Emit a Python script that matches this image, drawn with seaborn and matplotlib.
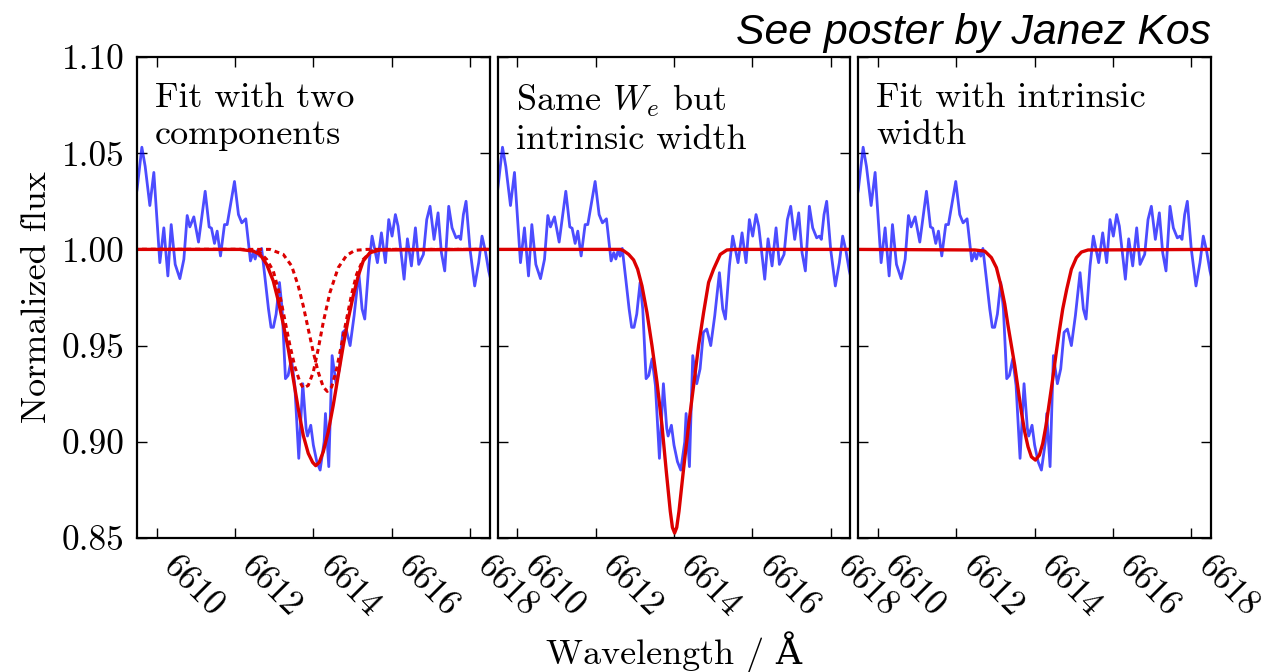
import matplotlib
matplotlib.use("Agg")
import matplotlib.pyplot as plt
import seaborn as sns

# observed spectrum (same in all three panels)
wave = [6609.40, 6609.50, 6609.623, 6609.708, 6609.827, 6609.929, 6610.082, 6610.184, 6610.287,
        6610.372, 6610.474, 6610.593, 6610.695, 6610.780, 6610.848, 6610.950, 6611.069,
        6611.239, 6611.341, 6611.400, 6611.477, 6611.545, 6611.630, 6611.732, 6611.800,
        6611.987, 6612.089, 6612.174, 6612.276, 6612.395, 6612.463, 6612.515, 6612.575,
        6612.625, 6612.680, 6612.770, 6612.855, 6612.920, 6612.980, 6613.050, 6613.135,
        6613.203, 6613.288, 6613.356, 6613.441, 6613.526, 6613.628, 6613.730, 6613.815,
        6613.850, 6613.934, 6614.000, 6614.088, 6614.173, 6614.275, 6614.309, 6614.394,
        6614.479, 6614.581, 6614.666, 6614.751, 6614.836, 6614.938, 6615.040, 6615.159,
        6615.244, 6615.312, 6615.414, 6615.499, 6615.567, 6615.635, 6615.737, 6615.839,
        6615.924, 6616.009, 6616.094, 6616.162, 6616.230, 6616.316, 6616.401, 6616.503,
        6616.605, 6616.690, 6616.809, 6616.894, 6616.979, 6617.081, 6617.183, 6617.268,
        6617.353, 6617.455, 6617.540, 6617.642, 6617.710, 6617.761, 6617.829, 6617.897,
        6617.999, 6618.118, 6618.220, 6618.305, 6618.390, 6618.475, 6618.520]
flux = [1.020, 1.031, 1.0531, 1.0431, 1.0228, 1.0400, 0.9931, 1.0112, 0.9862,
        1.0129, 0.9922, 0.9848, 0.9948, 1.0176, 1.0117, 1.0169, 1.0038,
        1.0302, 1.0117, 1.0110, 1.0031, 1.0095, 0.9966, 1.0129, 1.0129,
        1.0353, 1.0181, 1.0138, 1.0159, 0.9940, 0.9983, 0.9950, 0.9995,
        0.9965, 1.0005, 0.9845, 0.9690, 0.9595, 0.9595, 0.9664, 0.9828,
        0.9690, 0.9328, 0.9345, 0.9431, 0.9293, 0.8914, 0.9302, 0.9069,
        0.9030, 0.9086, 0.8983, 0.8897, 0.8853, 0.9000, 0.9147, 0.8871,
        0.9448, 0.9302, 0.9379, 0.9569, 0.9586, 0.9500, 0.9655, 0.9879,
        0.9690, 0.9638, 0.9914, 1.0069, 1.0000, 0.9931, 1.0086, 0.9931,
        1.0155, 1.0069, 1.0181, 1.0121, 1.0000, 0.9845, 1.0055, 0.9914,
        1.0112, 0.9922, 0.9974, 1.0155, 1.0224, 1.0052, 1.0190, 0.9983,
        0.9888, 1.0224, 1.0112, 1.0060, 1.0069, 1.0052, 1.0181, 1.0250,
        1.0000, 0.9810, 0.9931, 1.0069, 0.9991, 0.9888, 0.9850]

# panel 1: combined two-component fit
two_wave = [6609.40, 6612.128, 6612.467, 6612.638, 6612.809, 6612.977, 6613.105, 6613.232,
            6613.360, 6613.487, 6613.615, 6613.742, 6613.870, 6613.982, 6614.060, 6614.150,
            6614.253, 6614.380, 6614.508, 6614.635, 6614.763, 6614.890, 6615.018, 6615.145,
            6615.273, 6615.444, 6615.699, 6618.60]
two_flux = [1.0, 1.0, 0.9991, 0.9974, 0.9922, 0.9836, 0.9733, 0.9612,
            0.9483, 0.9328, 0.9172, 0.9034, 0.8940, 0.8893, 0.8876, 0.8893,
            0.8948, 0.9052, 0.9190, 0.9345, 0.9500, 0.9638, 0.9759, 0.9862,
            0.9940, 0.9983, 0.9997, 1.0]

# panel 1: the two individual components
comp_a_wave = [6609.40, 6612.128, 6612.467, 6612.638, 6612.809, 6612.977, 6613.148, 6613.276,
               6613.403, 6613.531, 6613.658, 6613.742, 6613.870, 6613.998, 6614.125, 6614.253,
               6614.423, 6614.635, 6614.849, 6615.061, 6615.360, 6618.60]
comp_a_flux = [1.0, 1.0, 0.9997, 0.9983, 0.9948, 0.9888, 0.9759, 0.9629,
               0.9500, 0.9388, 0.9310, 0.9279, 0.9293, 0.9362, 0.9483, 0.9621,
               0.9776, 0.9905, 0.9969, 0.9995, 1.0, 1.0]
comp_b_wave = [6609.40, 6612.893, 6613.232, 6613.446, 6613.615, 6613.742, 6613.870, 6613.998,
               6614.125, 6614.253, 6614.355, 6614.467, 6614.594, 6614.722, 6614.849, 6614.977,
               6615.105, 6615.273, 6615.487, 6615.656, 6618.60]
comp_b_flux = [1.0, 1.0, 0.9974, 0.9914, 0.9810, 0.9707, 0.9586, 0.9466,
               0.9362, 0.9285, 0.9262, 0.9285, 0.9379, 0.9509, 0.9638, 0.9767,
               0.9871, 0.9948, 0.9991, 1.0, 1.0]

# panel 2: same equivalent width, intrinsic width
same_wave = [6609.40, 6612.630, 6612.715, 6612.843, 6612.970, 6613.072, 6613.183, 6613.310,
             6613.438, 6613.566, 6613.693, 6613.804, 6613.906, 6613.960, 6614.016, 6614.070,
             6614.127, 6614.246, 6614.373, 6614.501, 6614.628, 6614.756, 6614.883, 6615.010,
             6615.181, 6615.352, 6615.560, 6618.60]
same_flux = [1.0, 1.0, 0.9993, 0.9974, 0.9945, 0.9897, 0.9810, 0.9672,
             0.9500, 0.9310, 0.9086, 0.8845, 0.8638, 0.8555, 0.8526, 0.8555,
             0.8638, 0.8862, 0.9086, 0.9293, 0.9500, 0.9672, 0.9828, 0.9897,
             0.9974, 0.9997, 1.0, 1.0]

# panel 3: fit with intrinsic width
intr_wave = [6609.40, 6612.472, 6612.727, 6612.897, 6613.025, 6613.152, 6613.237, 6613.322,
             6613.407, 6613.492, 6613.577, 6613.662, 6613.747, 6613.832, 6613.918, 6614.020,
             6614.122, 6614.207, 6614.292, 6614.377, 6614.462, 6614.547, 6614.632, 6614.717,
             6614.819, 6614.938, 6615.066, 6615.193, 6615.363, 6618.60]
intr_flux = [1.0, 0.9997, 0.9991, 0.9957, 0.9905, 0.9802, 0.9716, 0.9603,
             0.9500, 0.9397, 0.9276, 0.9155, 0.9052, 0.8974, 0.8922, 0.8905,
             0.8931, 0.8991, 0.9086, 0.9207, 0.9328, 0.9457, 0.9578, 0.9690,
             0.9793, 0.9897, 0.9957, 0.9986, 0.9997, 1.0]

panel_texts = ["Fit with two\ncomponents", "Same $W_e$ but\nintrinsic width",
               "Fit with intrinsic\nwidth"]
x_ticks = [6610, 6612, 6614, 6616, 6618]
y_ticks = [0.85, 0.90, 0.95, 1.00, 1.05, 1.10]

sns.set_theme(style="ticks")
plt.rcParams["font.family"] = ["cmr10", "DejaVu Serif"]
plt.rcParams["mathtext.fontset"] = "cm"
plt.rcParams["axes.formatter.use_mathtext"] = True

BLUE = "#0000ff"
RED = "#dc0000"

fig, axes = plt.subplots(1, 3, figsize=(12.7, 6.72), dpi=100, sharey=True)
fig.subplots_adjust(left=0.1079, right=0.9535, bottom=0.1994, top=0.9152, wspace=0.0227)

fits = [[(two_wave, two_flux, "-"), (comp_a_wave, comp_a_flux, ":"), (comp_b_wave, comp_b_flux, ":")],
        [(same_wave, same_flux, "-")],
        [(intr_wave, intr_flux, "-")]]

for i, ax in enumerate(axes):
    sns.lineplot(x=wave, y=flux, ax=ax, color=BLUE, alpha=0.7, linewidth=2.0,
                 estimator=None, sort=False)
    for fw, ff, ls in fits[i]:
        if ls == ":":
            sns.lineplot(x=fw, y=ff, ax=ax, color=RED, linewidth=2.2,
                         linestyle=(0, (1.6, 1.3)), estimator=None, sort=False)
        else:
            sns.lineplot(x=fw, y=ff, ax=ax, color=RED, linewidth=2.4,
                         estimator=None, sort=False)
    ax.set_xlim(6609.5, 6618.5)
    ax.set_ylim(0.85, 1.10)
    ax.set_xticks(x_ticks)
    ax.set_xticklabels([str(t) for t in x_ticks])
    ax.set_yticks(y_ticks)
    ax.set_yticklabels([f"{t:.2f}" for t in y_ticks])
    ax.tick_params(direction="in", top=True, right=True, length=7, width=1.0,
                   labelsize=25.5, color="black", labelcolor="black")
    ax.tick_params(axis="x", pad=9)
    ax.tick_params(axis="y", pad=9)
    for lab in ax.get_xticklabels():
        lab.set_rotation(-45)
        lab.set_ha("left")
        lab.set_va("top")
    for sp in ax.spines.values():
        sp.set_visible(True)
        sp.set_color("black")
        sp.set_linewidth(1.6)
    ax.set_xlabel("")
    ax.set_ylabel("")
    ax.text(0.051, 0.947, panel_texts[i], transform=ax.transAxes, ha="left", va="top",
            fontsize=26, linespacing=1.22, color="black")
    if i > 0:
        ax.tick_params(axis="y", labelleft=False)

axes[0].set_ylabel("Normalized flux", fontsize=26, labelpad=6, color="black")
axes[1].set_xlabel("Wavelength / Å", fontsize=26, labelpad=6, color="black")

fig.text(0.9535, 0.9345, "See poster by Janez Kos", ha="right", va="baseline",
         fontsize=30.8, style="italic", family=["Liberation Sans", "DejaVu Sans"], color="black")

fig.savefig("out.png", dpi=100)
